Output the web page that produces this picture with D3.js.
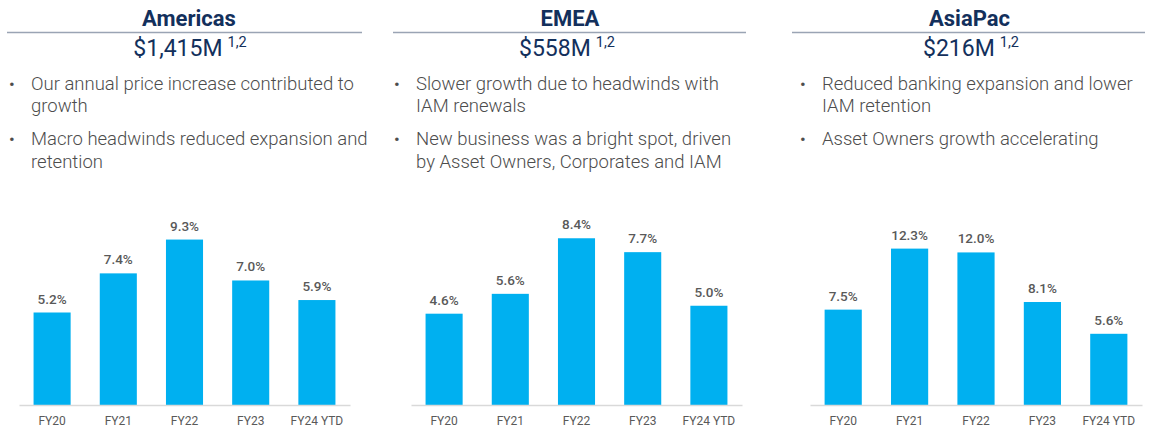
<!DOCTYPE html>
<html>
<head>
<meta charset="utf-8">
<script src="https://cdn.jsdelivr.net/npm/d3@7/dist/d3.min.js"></script>
<style>
  html, body { margin: 0; padding: 0; background: #ffffff; }
  svg { display: block; font-family: Roboto, "Noto Sans", Arial, sans-serif; }
</style>
</head>
<body>
<svg id="chart" width="1151" height="430"></svg>
<script>
// ---- data ----
const categories = ["FY20", "FY21", "FY22", "FY23", "FY24 YTD"];
const regionNames = ["Americas", "EMEA", "AsiaPac"];
const revenueLabels = ["$1,415M", "$558M", "$216M"];
const footnoteRefs = ["1,2", "1,2", "1,2"];
const americasGrowth = [5.2, 7.4, 9.3, 7.0, 5.9];
const emeaGrowth = [4.6, 5.6, 8.4, 7.7, 5.0];
const asiaPacGrowth = [7.5, 12.3, 12.0, 8.1, 5.6];
const axisMax = [10.4, 9.32, 14.55];
const americasBullets = [
  ["Our annual price increase contributed to", "growth"],
  ["Macro headwinds reduced expansion and", "retention"]
];
const emeaBullets = [
  ["Slower growth due to headwinds with", "IAM renewals"],
  ["New business was a bright spot, driven", "by Asset Owners, Corporates and IAM"]
];
const asiaPacBullets = [
  ["Reduced banking expansion and lower", "IAM retention"],
  ["Asset Owners growth accelerating"]
];

const seriesList = [americasGrowth, emeaGrowth, asiaPacGrowth];
const bulletList = [americasBullets, emeaBullets, asiaPacBullets];

// ---- layout (positions / styles) ----
const layout = [
  { ruleX: [7, 362],   titleX: 189,   revX: 190, textX: 31,  axisX: [19, 350] },
  { ruleX: [393, 746], titleX: 570,   revX: 567, textX: 416, axisX: [411, 742] },
  { ruleX: [792, 1145], titleX: 969.5, revX: 971, textX: 822, axisX: [810, 1142] }
];
const baseY = 405, topY = 220;
const navy = "#13305c";
const textGray = "#4d4d4d";
const labelGray = "#595959";
const barColor = "#00b0f0";

const svg = d3.select("#chart");

regionNames.forEach((name, i) => {
  const L = layout[i];
  const g = svg.append("g");

  // title
  g.append("text")
    .attr("x", L.titleX).attr("y", 26)
    .attr("text-anchor", "middle")
    .attr("font-size", 22).attr("font-weight", 700)
    .attr("fill", navy)
    .text(name);

  // rule
  g.append("line")
    .attr("x1", L.ruleX[0]).attr("x2", L.ruleX[1])
    .attr("y1", 32.5).attr("y2", 32.5)
    .attr("stroke", "#9aa4b4").attr("stroke-width", 1.5);

  // revenue with superscript
  const rev = g.append("text")
    .attr("x", L.revX).attr("y", 56)
    .attr("text-anchor", "middle")
    .attr("font-size", 23).attr("font-weight", 400)
    .attr("fill", navy);
  rev.append("tspan").text(revenueLabels[i]);
  rev.append("tspan").attr("dx", 5).attr("dy", -9).attr("font-size", 14.5).text(footnoteRefs[i]);

  // bullets
  let y = 89.5;
  bulletList[i].forEach((lines) => {
    g.append("text")
      .attr("x", L.textX - 22).attr("y", y)
      .attr("font-size", 17).attr("fill", textGray)
      .text("•");
    lines.forEach((ln, li) => {
      g.append("text")
        .attr("x", L.textX).attr("y", y + li * 22.5)
        .attr("font-size", 18.5).attr("font-weight", 300).attr("fill", textGray)
        .text(ln);
    });
    y += lines.length * 22.5 + 10.5;
  });

  // chart
  const values = seriesList[i];
  const x = d3.scaleBand()
    .domain(categories)
    .range(L.axisX)
    .paddingInner(0.44)
    .paddingOuter(0.22);
  const yScale = d3.scaleLinear()
    .domain([0, axisMax[i]])
    .range([baseY, topY]);

  const data = categories.map((c, k) => ({ cat: c, v: values[k] }));

  g.selectAll("rect.bar").data(data).enter().append("rect")
    .attr("class", "bar")
    .attr("x", d => x(d.cat))
    .attr("width", x.bandwidth())
    .attr("y", d => yScale(d.v))
    .attr("height", d => baseY - yScale(d.v))
    .attr("fill", barColor);

  g.selectAll("text.val").data(data).enter().append("text")
    .attr("class", "val")
    .attr("x", d => x(d.cat) + x.bandwidth() / 2)
    .attr("y", d => yScale(d.v) - 9)
    .attr("text-anchor", "middle")
    .attr("font-size", 13.5).attr("font-weight", 500)
    .attr("fill", labelGray)
    .text(d => d3.format(".1f")(d.v) + "%");

  const axis = d3.axisBottom(x).tickSize(0).tickPadding(11);
  const ax = g.append("g")
    .attr("transform", `translate(0,${baseY})`)
    .call(axis);
  ax.select(".domain").attr("stroke", "#d9d9d9").attr("stroke-width", 1.5);
  ax.selectAll(".tick text")
    .attr("font-family", "Roboto, 'Noto Sans', Arial, sans-serif")
    .attr("font-size", 12).attr("fill", labelGray);
});
</script>
</body>
</html>
